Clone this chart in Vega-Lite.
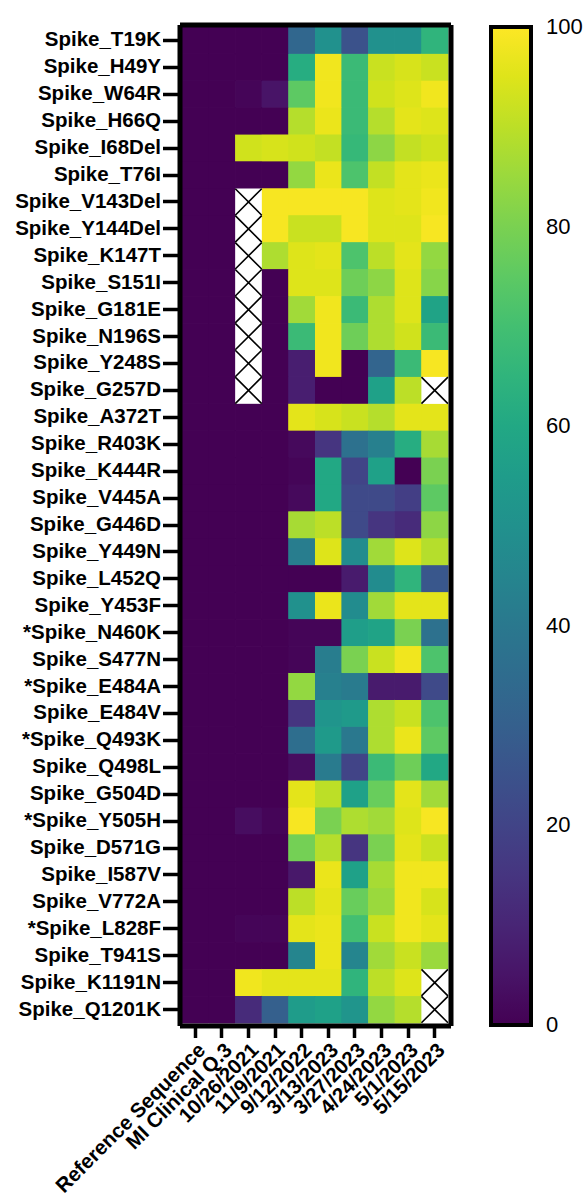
{
  "$schema": "https://vega.github.io/schema/vega-lite/v6.json",
  "autosize": "none",
  "width": 266,
  "height": 996,
  "padding": {"left": 182, "top": 27, "right": 139, "bottom": 177},
  "background": "white",
  "config": {
    "view": {"stroke": null},
    "font": "Liberation Sans"
  },
  "data": {"values": [
{"m":"Spike_T19K","d":"Reference Sequence","v":0},{"m":"Spike_T19K","d":"MI Clinical Q.3","v":0},{"m":"Spike_T19K","d":"10/26/2021","v":0},{"m":"Spike_T19K","d":"11/9/2021","v":0},{"m":"Spike_T19K","d":"9/12/2022","v":33},{"m":"Spike_T19K","d":"3/13/2023","v":50},{"m":"Spike_T19K","d":"3/27/2023","v":25},{"m":"Spike_T19K","d":"4/24/2023","v":50},{"m":"Spike_T19K","d":"5/1/2023","v":50},{"m":"Spike_T19K","d":"5/15/2023","v":65},
{"m":"Spike_H49Y","d":"Reference Sequence","v":0},{"m":"Spike_H49Y","d":"MI Clinical Q.3","v":0},{"m":"Spike_H49Y","d":"10/26/2021","v":0},{"m":"Spike_H49Y","d":"11/9/2021","v":0},{"m":"Spike_H49Y","d":"9/12/2022","v":62},{"m":"Spike_H49Y","d":"3/13/2023","v":98},{"m":"Spike_H49Y","d":"3/27/2023","v":68},{"m":"Spike_H49Y","d":"4/24/2023","v":92},{"m":"Spike_H49Y","d":"5/1/2023","v":94},{"m":"Spike_H49Y","d":"5/15/2023","v":92},
{"m":"Spike_W64R","d":"Reference Sequence","v":0},{"m":"Spike_W64R","d":"MI Clinical Q.3","v":0},{"m":"Spike_W64R","d":"10/26/2021","v":1},{"m":"Spike_W64R","d":"11/9/2021","v":5},{"m":"Spike_W64R","d":"9/12/2022","v":75},{"m":"Spike_W64R","d":"3/13/2023","v":98},{"m":"Spike_W64R","d":"3/27/2023","v":68},{"m":"Spike_W64R","d":"4/24/2023","v":93},{"m":"Spike_W64R","d":"5/1/2023","v":95},{"m":"Spike_W64R","d":"5/15/2023","v":98},
{"m":"Spike_H66Q","d":"Reference Sequence","v":0},{"m":"Spike_H66Q","d":"MI Clinical Q.3","v":0},{"m":"Spike_H66Q","d":"10/26/2021","v":0},{"m":"Spike_H66Q","d":"11/9/2021","v":0},{"m":"Spike_H66Q","d":"9/12/2022","v":89},{"m":"Spike_H66Q","d":"3/13/2023","v":97},{"m":"Spike_H66Q","d":"3/27/2023","v":68},{"m":"Spike_H66Q","d":"4/24/2023","v":89},{"m":"Spike_H66Q","d":"5/1/2023","v":96},{"m":"Spike_H66Q","d":"5/15/2023","v":95},
{"m":"Spike_I68Del","d":"Reference Sequence","v":0},{"m":"Spike_I68Del","d":"MI Clinical Q.3","v":0},{"m":"Spike_I68Del","d":"10/26/2021","v":93},{"m":"Spike_I68Del","d":"11/9/2021","v":94},{"m":"Spike_I68Del","d":"9/12/2022","v":93},{"m":"Spike_I68Del","d":"3/13/2023","v":91},{"m":"Spike_I68Del","d":"3/27/2023","v":67},{"m":"Spike_I68Del","d":"4/24/2023","v":83},{"m":"Spike_I68Del","d":"5/1/2023","v":91},{"m":"Spike_I68Del","d":"5/15/2023","v":93},
{"m":"Spike_T76I","d":"Reference Sequence","v":0},{"m":"Spike_T76I","d":"MI Clinical Q.3","v":0},{"m":"Spike_T76I","d":"10/26/2021","v":0},{"m":"Spike_T76I","d":"11/9/2021","v":0},{"m":"Spike_T76I","d":"9/12/2022","v":84},{"m":"Spike_T76I","d":"3/13/2023","v":97},{"m":"Spike_T76I","d":"3/27/2023","v":72},{"m":"Spike_T76I","d":"4/24/2023","v":91},{"m":"Spike_T76I","d":"5/1/2023","v":96},{"m":"Spike_T76I","d":"5/15/2023","v":97},
{"m":"Spike_V143Del","d":"Reference Sequence","v":0},{"m":"Spike_V143Del","d":"MI Clinical Q.3","v":0},{"m":"Spike_V143Del","d":"10/26/2021","v":null},{"m":"Spike_V143Del","d":"11/9/2021","v":99},{"m":"Spike_V143Del","d":"9/12/2022","v":99},{"m":"Spike_V143Del","d":"3/13/2023","v":99},{"m":"Spike_V143Del","d":"3/27/2023","v":99},{"m":"Spike_V143Del","d":"4/24/2023","v":95},{"m":"Spike_V143Del","d":"5/1/2023","v":96},{"m":"Spike_V143Del","d":"5/15/2023","v":98},
{"m":"Spike_Y144Del","d":"Reference Sequence","v":0},{"m":"Spike_Y144Del","d":"MI Clinical Q.3","v":0},{"m":"Spike_Y144Del","d":"10/26/2021","v":null},{"m":"Spike_Y144Del","d":"11/9/2021","v":99},{"m":"Spike_Y144Del","d":"9/12/2022","v":92},{"m":"Spike_Y144Del","d":"3/13/2023","v":92},{"m":"Spike_Y144Del","d":"3/27/2023","v":99},{"m":"Spike_Y144Del","d":"4/24/2023","v":95},{"m":"Spike_Y144Del","d":"5/1/2023","v":95},{"m":"Spike_Y144Del","d":"5/15/2023","v":99},
{"m":"Spike_K147T","d":"Reference Sequence","v":0},{"m":"Spike_K147T","d":"MI Clinical Q.3","v":0},{"m":"Spike_K147T","d":"10/26/2021","v":null},{"m":"Spike_K147T","d":"11/9/2021","v":88},{"m":"Spike_K147T","d":"9/12/2022","v":95},{"m":"Spike_K147T","d":"3/13/2023","v":96},{"m":"Spike_K147T","d":"3/27/2023","v":72},{"m":"Spike_K147T","d":"4/24/2023","v":90},{"m":"Spike_K147T","d":"5/1/2023","v":96},{"m":"Spike_K147T","d":"5/15/2023","v":84},
{"m":"Spike_S151I","d":"Reference Sequence","v":0},{"m":"Spike_S151I","d":"MI Clinical Q.3","v":0},{"m":"Spike_S151I","d":"10/26/2021","v":null},{"m":"Spike_S151I","d":"11/9/2021","v":0},{"m":"Spike_S151I","d":"9/12/2022","v":95},{"m":"Spike_S151I","d":"3/13/2023","v":95},{"m":"Spike_S151I","d":"3/27/2023","v":78},{"m":"Spike_S151I","d":"4/24/2023","v":83},{"m":"Spike_S151I","d":"5/1/2023","v":95},{"m":"Spike_S151I","d":"5/15/2023","v":82},
{"m":"Spike_G181E","d":"Reference Sequence","v":0},{"m":"Spike_G181E","d":"MI Clinical Q.3","v":0},{"m":"Spike_G181E","d":"10/26/2021","v":null},{"m":"Spike_G181E","d":"11/9/2021","v":0},{"m":"Spike_G181E","d":"9/12/2022","v":86},{"m":"Spike_G181E","d":"3/13/2023","v":98},{"m":"Spike_G181E","d":"3/27/2023","v":68},{"m":"Spike_G181E","d":"4/24/2023","v":88},{"m":"Spike_G181E","d":"5/1/2023","v":95},{"m":"Spike_G181E","d":"5/15/2023","v":58},
{"m":"Spike_N196S","d":"Reference Sequence","v":0},{"m":"Spike_N196S","d":"MI Clinical Q.3","v":0},{"m":"Spike_N196S","d":"10/26/2021","v":null},{"m":"Spike_N196S","d":"11/9/2021","v":0},{"m":"Spike_N196S","d":"9/12/2022","v":68},{"m":"Spike_N196S","d":"3/13/2023","v":98},{"m":"Spike_N196S","d":"3/27/2023","v":78},{"m":"Spike_N196S","d":"4/24/2023","v":88},{"m":"Spike_N196S","d":"5/1/2023","v":93},{"m":"Spike_N196S","d":"5/15/2023","v":68},
{"m":"Spike_Y248S","d":"Reference Sequence","v":0},{"m":"Spike_Y248S","d":"MI Clinical Q.3","v":0},{"m":"Spike_Y248S","d":"10/26/2021","v":null},{"m":"Spike_Y248S","d":"11/9/2021","v":0},{"m":"Spike_Y248S","d":"9/12/2022","v":8},{"m":"Spike_Y248S","d":"3/13/2023","v":98},{"m":"Spike_Y248S","d":"3/27/2023","v":0},{"m":"Spike_Y248S","d":"4/24/2023","v":32},{"m":"Spike_Y248S","d":"5/1/2023","v":68},{"m":"Spike_Y248S","d":"5/15/2023","v":99},
{"m":"Spike_G257D","d":"Reference Sequence","v":0},{"m":"Spike_G257D","d":"MI Clinical Q.3","v":0},{"m":"Spike_G257D","d":"10/26/2021","v":null},{"m":"Spike_G257D","d":"11/9/2021","v":0},{"m":"Spike_G257D","d":"9/12/2022","v":8},{"m":"Spike_G257D","d":"3/13/2023","v":0},{"m":"Spike_G257D","d":"3/27/2023","v":0},{"m":"Spike_G257D","d":"4/24/2023","v":57},{"m":"Spike_G257D","d":"5/1/2023","v":90},{"m":"Spike_G257D","d":"5/15/2023","v":null},
{"m":"Spike_A372T","d":"Reference Sequence","v":0},{"m":"Spike_A372T","d":"MI Clinical Q.3","v":0},{"m":"Spike_A372T","d":"10/26/2021","v":0},{"m":"Spike_A372T","d":"11/9/2021","v":0},{"m":"Spike_A372T","d":"9/12/2022","v":96},{"m":"Spike_A372T","d":"3/13/2023","v":94},{"m":"Spike_A372T","d":"3/27/2023","v":92},{"m":"Spike_A372T","d":"4/24/2023","v":89},{"m":"Spike_A372T","d":"5/1/2023","v":96},{"m":"Spike_A372T","d":"5/15/2023","v":96},
{"m":"Spike_R403K","d":"Reference Sequence","v":0},{"m":"Spike_R403K","d":"MI Clinical Q.3","v":0},{"m":"Spike_R403K","d":"10/26/2021","v":0},{"m":"Spike_R403K","d":"11/9/2021","v":0},{"m":"Spike_R403K","d":"9/12/2022","v":2},{"m":"Spike_R403K","d":"3/13/2023","v":15},{"m":"Spike_R403K","d":"3/27/2023","v":37},{"m":"Spike_R403K","d":"4/24/2023","v":43},{"m":"Spike_R403K","d":"5/1/2023","v":62},{"m":"Spike_R403K","d":"5/15/2023","v":87},
{"m":"Spike_K444R","d":"Reference Sequence","v":0},{"m":"Spike_K444R","d":"MI Clinical Q.3","v":0},{"m":"Spike_K444R","d":"10/26/2021","v":0},{"m":"Spike_K444R","d":"11/9/2021","v":0},{"m":"Spike_K444R","d":"9/12/2022","v":1},{"m":"Spike_K444R","d":"3/13/2023","v":60},{"m":"Spike_K444R","d":"3/27/2023","v":20},{"m":"Spike_K444R","d":"4/24/2023","v":57},{"m":"Spike_K444R","d":"5/1/2023","v":0},{"m":"Spike_K444R","d":"5/15/2023","v":80},
{"m":"Spike_V445A","d":"Reference Sequence","v":0},{"m":"Spike_V445A","d":"MI Clinical Q.3","v":0},{"m":"Spike_V445A","d":"10/26/2021","v":0},{"m":"Spike_V445A","d":"11/9/2021","v":0},{"m":"Spike_V445A","d":"9/12/2022","v":2},{"m":"Spike_V445A","d":"3/13/2023","v":60},{"m":"Spike_V445A","d":"3/27/2023","v":22},{"m":"Spike_V445A","d":"4/24/2023","v":22},{"m":"Spike_V445A","d":"5/1/2023","v":18},{"m":"Spike_V445A","d":"5/15/2023","v":75},
{"m":"Spike_G446D","d":"Reference Sequence","v":0},{"m":"Spike_G446D","d":"MI Clinical Q.3","v":0},{"m":"Spike_G446D","d":"10/26/2021","v":0},{"m":"Spike_G446D","d":"11/9/2021","v":0},{"m":"Spike_G446D","d":"9/12/2022","v":87},{"m":"Spike_G446D","d":"3/13/2023","v":90},{"m":"Spike_G446D","d":"3/27/2023","v":22},{"m":"Spike_G446D","d":"4/24/2023","v":15},{"m":"Spike_G446D","d":"5/1/2023","v":12},{"m":"Spike_G446D","d":"5/15/2023","v":83},
{"m":"Spike_Y449N","d":"Reference Sequence","v":0},{"m":"Spike_Y449N","d":"MI Clinical Q.3","v":0},{"m":"Spike_Y449N","d":"10/26/2021","v":0},{"m":"Spike_Y449N","d":"11/9/2021","v":0},{"m":"Spike_Y449N","d":"9/12/2022","v":42},{"m":"Spike_Y449N","d":"3/13/2023","v":95},{"m":"Spike_Y449N","d":"3/27/2023","v":48},{"m":"Spike_Y449N","d":"4/24/2023","v":86},{"m":"Spike_Y449N","d":"5/1/2023","v":95},{"m":"Spike_Y449N","d":"5/15/2023","v":89},
{"m":"Spike_L452Q","d":"Reference Sequence","v":0},{"m":"Spike_L452Q","d":"MI Clinical Q.3","v":0},{"m":"Spike_L452Q","d":"10/26/2021","v":0},{"m":"Spike_L452Q","d":"11/9/2021","v":0},{"m":"Spike_L452Q","d":"9/12/2022","v":0},{"m":"Spike_L452Q","d":"3/13/2023","v":0},{"m":"Spike_L452Q","d":"3/27/2023","v":7},{"m":"Spike_L452Q","d":"4/24/2023","v":48},{"m":"Spike_L452Q","d":"5/1/2023","v":65},{"m":"Spike_L452Q","d":"5/15/2023","v":27},
{"m":"Spike_Y453F","d":"Reference Sequence","v":0},{"m":"Spike_Y453F","d":"MI Clinical Q.3","v":0},{"m":"Spike_Y453F","d":"10/26/2021","v":0},{"m":"Spike_Y453F","d":"11/9/2021","v":0},{"m":"Spike_Y453F","d":"9/12/2022","v":50},{"m":"Spike_Y453F","d":"3/13/2023","v":97},{"m":"Spike_Y453F","d":"3/27/2023","v":48},{"m":"Spike_Y453F","d":"4/24/2023","v":86},{"m":"Spike_Y453F","d":"5/1/2023","v":96},{"m":"Spike_Y453F","d":"5/15/2023","v":96},
{"m":"*Spike_N460K","d":"Reference Sequence","v":0},{"m":"*Spike_N460K","d":"MI Clinical Q.3","v":0},{"m":"*Spike_N460K","d":"10/26/2021","v":0},{"m":"*Spike_N460K","d":"11/9/2021","v":0},{"m":"*Spike_N460K","d":"9/12/2022","v":1},{"m":"*Spike_N460K","d":"3/13/2023","v":1},{"m":"*Spike_N460K","d":"3/27/2023","v":56},{"m":"*Spike_N460K","d":"4/24/2023","v":58},{"m":"*Spike_N460K","d":"5/1/2023","v":80},{"m":"*Spike_N460K","d":"5/15/2023","v":37},
{"m":"Spike_S477N","d":"Reference Sequence","v":0},{"m":"Spike_S477N","d":"MI Clinical Q.3","v":0},{"m":"Spike_S477N","d":"10/26/2021","v":0},{"m":"Spike_S477N","d":"11/9/2021","v":0},{"m":"Spike_S477N","d":"9/12/2022","v":1},{"m":"Spike_S477N","d":"3/13/2023","v":42},{"m":"Spike_S477N","d":"3/27/2023","v":80},{"m":"Spike_S477N","d":"4/24/2023","v":92},{"m":"Spike_S477N","d":"5/1/2023","v":98},{"m":"Spike_S477N","d":"5/15/2023","v":72},
{"m":"*Spike_E484A","d":"Reference Sequence","v":0},{"m":"*Spike_E484A","d":"MI Clinical Q.3","v":0},{"m":"*Spike_E484A","d":"10/26/2021","v":0},{"m":"*Spike_E484A","d":"11/9/2021","v":0},{"m":"*Spike_E484A","d":"9/12/2022","v":84},{"m":"*Spike_E484A","d":"3/13/2023","v":43},{"m":"*Spike_E484A","d":"3/27/2023","v":41},{"m":"*Spike_E484A","d":"4/24/2023","v":7},{"m":"*Spike_E484A","d":"5/1/2023","v":7},{"m":"*Spike_E484A","d":"5/15/2023","v":22},
{"m":"Spike_E484V","d":"Reference Sequence","v":0},{"m":"Spike_E484V","d":"MI Clinical Q.3","v":0},{"m":"Spike_E484V","d":"10/26/2021","v":0},{"m":"Spike_E484V","d":"11/9/2021","v":0},{"m":"Spike_E484V","d":"9/12/2022","v":15},{"m":"Spike_E484V","d":"3/13/2023","v":52},{"m":"Spike_E484V","d":"3/27/2023","v":54},{"m":"Spike_E484V","d":"4/24/2023","v":88},{"m":"Spike_E484V","d":"5/1/2023","v":92},{"m":"Spike_E484V","d":"5/15/2023","v":72},
{"m":"*Spike_Q493K","d":"Reference Sequence","v":0},{"m":"*Spike_Q493K","d":"MI Clinical Q.3","v":0},{"m":"*Spike_Q493K","d":"10/26/2021","v":0},{"m":"*Spike_Q493K","d":"11/9/2021","v":0},{"m":"*Spike_Q493K","d":"9/12/2022","v":36},{"m":"*Spike_Q493K","d":"3/13/2023","v":54},{"m":"*Spike_Q493K","d":"3/27/2023","v":40},{"m":"*Spike_Q493K","d":"4/24/2023","v":88},{"m":"*Spike_Q493K","d":"5/1/2023","v":97},{"m":"*Spike_Q493K","d":"5/15/2023","v":75},
{"m":"Spike_Q498L","d":"Reference Sequence","v":0},{"m":"Spike_Q498L","d":"MI Clinical Q.3","v":0},{"m":"Spike_Q498L","d":"10/26/2021","v":0},{"m":"Spike_Q498L","d":"11/9/2021","v":0},{"m":"Spike_Q498L","d":"9/12/2022","v":3},{"m":"Spike_Q498L","d":"3/13/2023","v":41},{"m":"Spike_Q498L","d":"3/27/2023","v":20},{"m":"Spike_Q498L","d":"4/24/2023","v":68},{"m":"Spike_Q498L","d":"5/1/2023","v":78},{"m":"Spike_Q498L","d":"5/15/2023","v":60},
{"m":"Spike_G504D","d":"Reference Sequence","v":0},{"m":"Spike_G504D","d":"MI Clinical Q.3","v":0},{"m":"Spike_G504D","d":"10/26/2021","v":0},{"m":"Spike_G504D","d":"11/9/2021","v":0},{"m":"Spike_G504D","d":"9/12/2022","v":96},{"m":"Spike_G504D","d":"3/13/2023","v":90},{"m":"Spike_G504D","d":"3/27/2023","v":57},{"m":"Spike_G504D","d":"4/24/2023","v":77},{"m":"Spike_G504D","d":"5/1/2023","v":96},{"m":"Spike_G504D","d":"5/15/2023","v":86},
{"m":"*Spike_Y505H","d":"Reference Sequence","v":0},{"m":"*Spike_Y505H","d":"MI Clinical Q.3","v":0},{"m":"*Spike_Y505H","d":"10/26/2021","v":3},{"m":"*Spike_Y505H","d":"11/9/2021","v":1},{"m":"*Spike_Y505H","d":"9/12/2022","v":99},{"m":"*Spike_Y505H","d":"3/13/2023","v":80},{"m":"*Spike_Y505H","d":"3/27/2023","v":88},{"m":"*Spike_Y505H","d":"4/24/2023","v":86},{"m":"*Spike_Y505H","d":"5/1/2023","v":95},{"m":"*Spike_Y505H","d":"5/15/2023","v":99},
{"m":"Spike_D571G","d":"Reference Sequence","v":0},{"m":"Spike_D571G","d":"MI Clinical Q.3","v":0},{"m":"Spike_D571G","d":"10/26/2021","v":0},{"m":"Spike_D571G","d":"11/9/2021","v":0},{"m":"Spike_D571G","d":"9/12/2022","v":79},{"m":"Spike_D571G","d":"3/13/2023","v":89},{"m":"Spike_D571G","d":"3/27/2023","v":15},{"m":"Spike_D571G","d":"4/24/2023","v":80},{"m":"Spike_D571G","d":"5/1/2023","v":96},{"m":"Spike_D571G","d":"5/15/2023","v":92},
{"m":"Spike_I587V","d":"Reference Sequence","v":0},{"m":"Spike_I587V","d":"MI Clinical Q.3","v":0},{"m":"Spike_I587V","d":"10/26/2021","v":0},{"m":"Spike_I587V","d":"11/9/2021","v":0},{"m":"Spike_I587V","d":"9/12/2022","v":6},{"m":"Spike_I587V","d":"3/13/2023","v":97},{"m":"Spike_I587V","d":"3/27/2023","v":57},{"m":"Spike_I587V","d":"4/24/2023","v":87},{"m":"Spike_I587V","d":"5/1/2023","v":98},{"m":"Spike_I587V","d":"5/15/2023","v":98},
{"m":"Spike_V772A","d":"Reference Sequence","v":0},{"m":"Spike_V772A","d":"MI Clinical Q.3","v":0},{"m":"Spike_V772A","d":"10/26/2021","v":0},{"m":"Spike_V772A","d":"11/9/2021","v":0},{"m":"Spike_V772A","d":"9/12/2022","v":90},{"m":"Spike_V772A","d":"3/13/2023","v":96},{"m":"Spike_V772A","d":"3/27/2023","v":77},{"m":"Spike_V772A","d":"4/24/2023","v":85},{"m":"Spike_V772A","d":"5/1/2023","v":98},{"m":"Spike_V772A","d":"5/15/2023","v":94},
{"m":"*Spike_L828F","d":"Reference Sequence","v":0},{"m":"*Spike_L828F","d":"MI Clinical Q.3","v":0},{"m":"*Spike_L828F","d":"10/26/2021","v":1},{"m":"*Spike_L828F","d":"11/9/2021","v":1},{"m":"*Spike_L828F","d":"9/12/2022","v":96},{"m":"*Spike_L828F","d":"3/13/2023","v":97},{"m":"*Spike_L828F","d":"3/27/2023","v":70},{"m":"*Spike_L828F","d":"4/24/2023","v":92},{"m":"*Spike_L828F","d":"5/1/2023","v":98},{"m":"*Spike_L828F","d":"5/15/2023","v":96},
{"m":"Spike_T941S","d":"Reference Sequence","v":0},{"m":"Spike_T941S","d":"MI Clinical Q.3","v":0},{"m":"Spike_T941S","d":"10/26/2021","v":0},{"m":"Spike_T941S","d":"11/9/2021","v":0},{"m":"Spike_T941S","d":"9/12/2022","v":45},{"m":"Spike_T941S","d":"3/13/2023","v":97},{"m":"Spike_T941S","d":"3/27/2023","v":45},{"m":"Spike_T941S","d":"4/24/2023","v":86},{"m":"Spike_T941S","d":"5/1/2023","v":92},{"m":"Spike_T941S","d":"5/15/2023","v":85},
{"m":"Spike_K1191N","d":"Reference Sequence","v":0},{"m":"Spike_K1191N","d":"MI Clinical Q.3","v":0},{"m":"Spike_K1191N","d":"10/26/2021","v":98},{"m":"Spike_K1191N","d":"11/9/2021","v":96},{"m":"Spike_K1191N","d":"9/12/2022","v":96},{"m":"Spike_K1191N","d":"3/13/2023","v":96},{"m":"Spike_K1191N","d":"3/27/2023","v":65},{"m":"Spike_K1191N","d":"4/24/2023","v":90},{"m":"Spike_K1191N","d":"5/1/2023","v":95},{"m":"Spike_K1191N","d":"5/15/2023","v":null},
{"m":"Spike_Q1201K","d":"Reference Sequence","v":0},{"m":"Spike_Q1201K","d":"MI Clinical Q.3","v":0},{"m":"Spike_Q1201K","d":"10/26/2021","v":12},{"m":"Spike_Q1201K","d":"11/9/2021","v":30},{"m":"Spike_Q1201K","d":"9/12/2022","v":55},{"m":"Spike_Q1201K","d":"3/13/2023","v":57},{"m":"Spike_Q1201K","d":"3/27/2023","v":52},{"m":"Spike_Q1201K","d":"4/24/2023","v":84},{"m":"Spike_Q1201K","d":"5/1/2023","v":89},{"m":"Spike_Q1201K","d":"5/15/2023","v":null}
  ]},
  "resolve": {"axis": {"x": "independent", "y": "independent"}},
  "layer": [
    {
      "transform": [{"filter": "datum.v !== null"}],
      "mark": {"type": "rect", "fill": null, "strokeWidth": 1},
      "encoding": {
        "x": {"field": "d", "type": "nominal", "sort": null,
          "scale": {"type": "band", "paddingInner": 0, "paddingOuter": 0},
          "axis": {"orient": "bottom", "title": null, "labelAngle": -45, "labelFontSize": 20.5, "labelFontWeight": "bold", "labelFont": "Liberation Sans", "labelColor": "black", "labelPadding": 2, "labelLimit": 0,
            "tickColor": "black", "tickWidth": 3.5, "tickSize": 12, "domainColor": "black", "domainWidth": 5, "domainCap": "square", "offset": 2.5, "zindex": 1, "grid": false}},
        "y": {"field": "m", "type": "nominal", "sort": null,
          "scale": {"type": "band", "paddingInner": 0, "paddingOuter": 0},
          "axis": {"orient": "left", "title": null, "labelFontSize": 20.5, "labelFontWeight": "bold", "labelFont": "Liberation Sans", "labelColor": "black", "labelPadding": 2, "labelLimit": 0,
            "tickColor": "black", "tickWidth": 3.5, "tickSize": 17, "domainColor": "black", "domainWidth": 5, "domainCap": "square", "offset": 2.5, "zindex": 1, "grid": false}},
        "stroke": {"field": "v", "type": "quantitative",
          "scale": {"scheme": "viridis", "domain": [0, 100.01]}, "legend": null}
      }
    },
    {
      "transform": [{"filter": "datum.v !== null"}],
      "mark": {"type": "rect"},
      "encoding": {
        "x": {"field": "d", "type": "nominal", "sort": null, "axis": null},
        "y": {"field": "m", "type": "nominal", "sort": null, "axis": null},
        "color": {"field": "v", "type": "quantitative",
          "scale": {"scheme": "viridis", "domain": [0, 100]},
          "legend": {"type": "gradient", "orient": "right", "offset": 40, "title": null, "direction": "vertical",
            "gradientLength": 998, "gradientThickness": 40, "gradientStrokeColor": "black", "gradientStrokeWidth": 4,
            "labelFontSize": 22, "labelFont": "Liberation Sans", "labelColor": "black", "labelOffset": 15,
            "values": [0, 20, 40, 60, 80, 100],
            "encode": {"labels": {"update": {"baseline": {"value": "middle"}}}}}}
      }
    },
    {
      "transform": [{"filter": "datum.v === null"}],
      "mark": {"type": "rect", "fill": "white"},
      "encoding": {
        "x": {"field": "d", "type": "nominal", "sort": null,
          "axis": {"orient": "top", "title": null, "labels": false, "ticks": false, "domainColor": "black", "domainWidth": 5, "domainCap": "square", "offset": 2.5, "zindex": 1, "grid": false}},
        "y": {"field": "m", "type": "nominal", "sort": null,
          "axis": {"orient": "right", "title": null, "labels": false, "ticks": false, "domainColor": "black", "domainWidth": 5, "domainCap": "square", "offset": 2.5, "zindex": 1, "grid": false}}
      }
    },
    {
      "transform": [{"filter": "datum.v === null"}],
      "mark": {"type": "point", "shape": "M-1,-1L1,1M-1,1L1,-1", "filled": false, "stroke": "black", "strokeWidth": 1.6, "size": 700, "opacity": 1},
      "encoding": {
        "x": {"field": "d", "type": "nominal", "sort": null, "axis": null},
        "y": {"field": "m", "type": "nominal", "sort": null, "axis": null}
      }
    }
  ]
}
